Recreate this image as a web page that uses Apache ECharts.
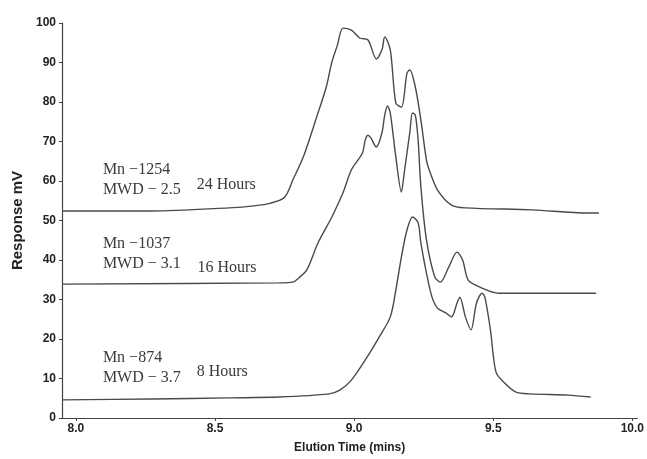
<!DOCTYPE html>
<html>
<head>
<meta charset="utf-8">
<script src="https://cdn.jsdelivr.net/npm/echarts@6/dist/echarts.min.js"></script>
<style>
  html, body { margin: 0; padding: 0; background: #fff; }
  #chart { width: 647px; height: 459px; }
</style>
</head>
<body>
<div id="chart"></div>
<script>
// elution time (mins) / response (mV)
const time24 = [7.95, 8.27, 8.55, 8.64, 8.70, 8.75, 8.78, 8.82, 8.87, 8.90, 8.92, 8.94, 8.96, 8.99, 9.02, 9.05, 9.08, 9.10, 9.11, 9.13, 9.15, 9.17, 9.19, 9.20, 9.22, 9.24, 9.26, 9.27, 9.30, 9.35, 9.40, 9.64, 9.84, 9.88];
const resp24 = [52.4, 52.4, 53.2, 53.7, 54.4, 55.9, 60.3, 66.6, 77.2, 83.8, 90.1, 94.4, 98.7, 98.2, 96.2, 95.7, 90.9, 93.2, 96.5, 93.2, 79.7, 78.7, 87.3, 88.1, 83.8, 75.4, 65.3, 62.8, 57.7, 53.9, 53.2, 52.7, 51.9, 51.9];

const time16 = [7.95, 8.73, 8.78, 8.80, 8.83, 8.87, 8.92, 8.96, 8.99, 9.03, 9.04, 9.05, 9.06, 9.08, 9.10, 9.11, 9.12, 9.13, 9.15, 9.17, 9.18, 9.20, 9.21, 9.22, 9.23, 9.24, 9.26, 9.29, 9.31, 9.34, 9.37, 9.39, 9.41, 9.45, 9.52, 9.87];
const resp16 = [33.9, 34.2, 34.4, 35.4, 37.5, 44.3, 50.9, 57.0, 62.8, 67.1, 70.4, 71.6, 70.9, 68.6, 72.2, 76.7, 79.0, 77.2, 66.1, 57.2, 62.0, 72.2, 77.2, 76.7, 70.4, 58.5, 45.1, 35.7, 34.4, 38.2, 42.0, 40.0, 34.9, 33.2, 31.6, 31.6];

const time8 = [7.95, 8.27, 8.55, 8.73, 8.91, 8.95, 8.99, 9.04, 9.09, 9.13, 9.15, 9.17, 9.19, 9.21, 9.23, 9.24, 9.26, 9.28, 9.30, 9.33, 9.35, 9.37, 9.38, 9.40, 9.42, 9.44, 9.46, 9.47, 9.49, 9.51, 9.54, 9.58, 9.63, 9.77, 9.85];
const resp8 = [4.6, 4.8, 5.1, 5.3, 6.1, 7.1, 9.6, 14.7, 20.5, 25.6, 32.4, 40.8, 47.6, 50.9, 49.4, 44.3, 36.7, 30.6, 27.8, 26.6, 25.6, 29.1, 30.6, 25.6, 22.3, 29.1, 31.6, 30.6, 22.3, 11.6, 8.9, 6.6, 6.1, 5.8, 5.3];

const xTicks = [8.0, 8.5, 9.0, 9.5, 10.0];

// annotation texts and where they sit (data coords)
const sampleNames = ['24 Hours', '16 Hours', '8 Hours'];
const sampleInfo = ['Mn \u22121254\nMWD \u2212 2.5', 'Mn \u22121037\nMWD \u2212 3.1', 'Mn \u2212874\nMWD \u2212 3.7'];
const infoPos = [[8.097, 60.3], [8.097, 41.6], [8.097, 12.7]];
const namePos = [[8.434, 59.0], [8.437, 38.0], [8.434, 11.6]];

const zip = (xs, ys) => xs.map((x, i) => [x, ys[i]]);
const curves = [zip(time24, resp24), zip(time16, resp16), zip(time8, resp8)];

const textFont = {
  fontFamily: '"Liberation Serif", "DejaVu Serif", serif',
  fontSize: 16,
  color: '#3a3a3a',
  lineHeight: 20
};
const axisFont = {
  fontFamily: '"Liberation Sans", Arial, sans-serif',
  fontWeight: 'bold',
  fontSize: 12,
  color: '#222'
};

const chart = echarts.init(document.getElementById('chart'));

const series = curves.map((data, i) => ({
  name: sampleNames[i],
  type: 'line',
  data: data,
  showSymbol: false,
  smooth: 0.3,
  lineStyle: { color: '#4a4a4a', width: 1.4 },
  silent: true,
  markPoint: {
    symbol: 'circle',
    symbolSize: 0,
    silent: true,
    data: [
      {
        coord: infoPos[i],
        label: Object.assign({ show: true, position: 'right', distance: 0, formatter: sampleInfo[i], align: 'left' }, textFont)
      },
      {
        coord: namePos[i],
        label: Object.assign({ show: true, position: 'right', distance: 0, formatter: sampleNames[i], align: 'left' }, textFont)
      }
    ]
  }
}));

const option = {
  animation: false,
  backgroundColor: '#fff',
  grid: { left: 62, right: 7, top: 23, bottom: 41 },
  xAxis: {
    type: 'value',
    min: 7.95,
    max: 10.018,
    name: 'Elution Time (mins)',
    nameLocation: 'middle',
    nameGap: 24,
    nameTextStyle: Object.assign({}, axisFont, { fontSize: 12 }),
    splitLine: { show: false },
    axisLine: { lineStyle: { color: '#444', width: 1.2 } },
    axisTick: { show: true, length: 3, customValues: xTicks, lineStyle: { color: '#444' } },
    axisLabel: Object.assign({ customValues: xTicks, margin: 5, formatter: v => v.toFixed(1) }, axisFont)
  },
  yAxis: {
    type: 'value',
    min: 0,
    max: 100,
    interval: 10,
    name: 'Response mV',
    nameLocation: 'middle',
    nameGap: 36,
    nameTextStyle: Object.assign({}, axisFont, { fontSize: 15 }),
    splitLine: { show: false },
    axisLine: { show: true, lineStyle: { color: '#444', width: 1.2 } },
    axisTick: { show: true, length: 3, lineStyle: { color: '#444' } },
    axisLabel: Object.assign({ margin: 6 }, axisFont)
  },
  series: series
};

chart.setOption(option);
</script>
</body>
</html>
